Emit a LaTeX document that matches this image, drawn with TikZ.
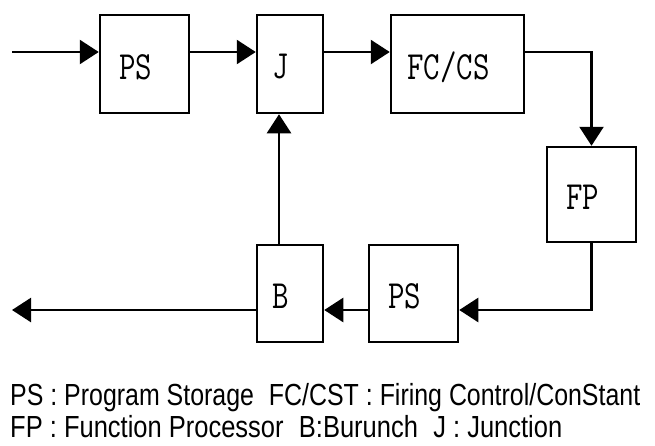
\documentclass[tikz,border=0pt]{standalone}
\usepackage{fontspec}
\usepackage{graphicx}
\setmainfont{Liberation Sans}
\usetikzlibrary{arrows.meta}
\tikzset{
  blk/.style={draw, line width=2.5pt, inner sep=0pt},
  blklabel/.style={font=\ttfamily\fontsize{40}{40}\selectfont, inner sep=0pt, xshift=-9pt, yshift=-3pt},
  arr/.style={line width=2.5pt, -{Triangle[length=19pt,width=24pt]}},
  legend/.style={anchor=base west, inner sep=0pt, font=\fontsize{30.5}{30.5}\selectfont}
}
\newcommand{\bl}[1]{\scalebox{0.8}[1]{#1}}
\begin{document}
\begin{tikzpicture}[x=1pt,y=-1pt]
\useasboundingbox[fill=white] (0,0) rectangle (655,445);
\node[blk, minimum width=89pt, minimum height=98pt, label={[blklabel]center:\bl{PS}}] (ps1) at (144.5,64) {};
\node[blk, minimum width=66pt, minimum height=98pt, label={[blklabel]center:\bl{J}}] (J) at (290,64) {};
\node[blk, minimum width=133pt, minimum height=98pt, label={[blklabel]center:\bl{FC/CS}}] (FC) at (457.5,64) {};
\node[blk, minimum width=89pt, minimum height=95pt, label={[blklabel]center:\bl{FP}}] (FP) at (591.5,194.5) {};
\node[blk, minimum width=66pt, minimum height=97pt, label={[blklabel]center:\bl{B}}] (B) at (290,293.5) {};
\node[blk, minimum width=89pt, minimum height=97pt, label={[blklabel]center:\bl{PS}}] (ps2) at (413.5,293.5) {};
\coordinate (in) at (12,52);
\coordinate (out) at (12,310);
\draw[arr] (in) -- (in -| ps1.west);
\draw[arr] ([yshift=12pt]ps1.east) -- ([yshift=12pt]J.west);
\draw[arr] ([yshift=12pt]J.east) -- ([yshift=12pt]FC.west);
\draw[arr] ([yshift=12pt]FC.east) -| (FP.north);
\draw[arr] (FP.south) |- ([yshift=-16.5pt]ps2.east);
\draw[arr] ([yshift=-16.5pt]ps2.west) -- ([yshift=-16.5pt]B.east);
\draw[arr] ([yshift=-16.5pt]B.west) -- (out);
\draw[arr] ([xshift=-11pt]B.north) -- ([xshift=-11pt]J.south);
\node[legend] (l1) at (10,405) {\resizebox{630pt}{\height}{PS : Program Storage\hspace{0.6em}FC/CST : Firing Control/ConStant}};
\node[legend] (l2) at (10,437) {\resizebox{552pt}{\height}{FP : Function Processor\hspace{0.6em}B:Burunch\hspace{0.6em}J : Junction}};
\end{tikzpicture}
\end{document}
